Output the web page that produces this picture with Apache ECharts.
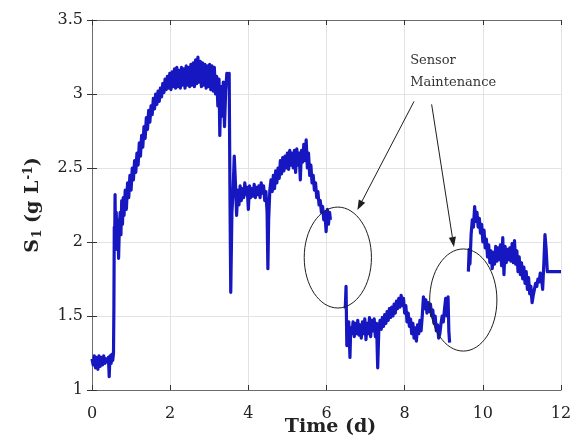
<!DOCTYPE html>
<html>
<head>
<meta charset="utf-8">
<script src="https://cdn.jsdelivr.net/npm/echarts@6/dist/echarts.min.js"></script>
<style>
html,body{margin:0;padding:0;background:#fff;}
#chart{width:571px;height:439px;}
</style>
</head>
<body>
<div id="chart"></div>
<script>
// ---- data (time in days, S1 in g/L) ----
const xTicks = [0, 2, 4, 6, 8, 10, 12];
const yTicks = [1, 1.5, 2, 2.5, 3, 3.5];

// before first sensor maintenance
const segBefore = [
  [0.00,1.21],[0.03,1.17],[0.06,1.23],[0.09,1.15],[0.12,1.22],[0.15,1.14],[0.18,1.23],[0.21,1.16],[0.24,1.22],[0.27,1.17],
  [0.30,1.23],[0.33,1.18],[0.36,1.21],[0.39,1.19],[0.42,1.22],[0.44,1.09],[0.46,1.23],[0.49,1.18],[0.51,1.24],[0.53,1.20],
  [0.55,1.25],[0.56,1.55],[0.57,2.10],[0.58,1.98],[0.59,2.32],[0.60,2.05],[0.62,2.20],[0.64,1.95],[0.66,2.15],[0.68,1.89],
  [0.70,2.10],[0.72,2.20],[0.74,2.05],[0.76,2.28],[0.78,2.12],[0.80,2.30],[0.82,2.18],[0.85,2.35],[0.88,2.22],[0.91,2.40],
  [0.94,2.30],[0.97,2.45],[1.00,2.35],
  [1.03,2.50],[1.06,2.42],[1.09,2.55],[1.12,2.47],[1.15,2.60],[1.18,2.52],[1.21,2.67],[1.24,2.58],[1.27,2.72],[1.30,2.64],
  [1.33,2.78],[1.36,2.70],[1.39,2.84],[1.42,2.76],[1.45,2.89],[1.48,2.81],[1.51,2.92],[1.54,2.86],[1.57,2.97],[1.60,2.90],
  [1.63,3.00],[1.66,2.93],[1.69,3.02],[1.72,2.95],[1.75,3.04],[1.78,2.98],[1.81,3.07],[1.84,3.01],[1.87,3.10],[1.90,3.03],
  [1.93,3.12],[1.96,3.04],[1.99,3.14],[2.02,3.03],
  [2.05,3.15],[2.08,3.05],[2.11,3.17],[2.14,3.04],[2.17,3.18],[2.20,3.05],[2.23,3.16],[2.26,3.04],[2.29,3.18],[2.32,3.06],
  [2.35,3.17],[2.38,3.04],[2.41,3.19],[2.44,3.06],[2.47,3.18],[2.50,3.05],[2.53,3.20],[2.56,3.06],[2.59,3.21],[2.62,3.05],
  [2.65,3.23],[2.68,3.07],[2.71,3.25],[2.74,3.08],[2.77,3.22],[2.80,3.05],[2.83,3.21],[2.86,3.06],[2.89,3.20],[2.92,3.04],
  [2.95,3.19],[2.98,3.05],[3.01,3.20],[3.04,3.03],[3.07,3.19],[3.10,3.02],[3.13,3.18],[3.16,3.00],[3.19,3.12],[3.22,2.92],
  [3.25,3.10],[3.27,2.72],[3.30,3.05],[3.33,2.85],[3.36,3.08],[3.39,2.78],[3.42,3.02],[3.45,3.14],[3.48,3.10],[3.51,3.14],
  [3.53,2.30],[3.55,1.66],[3.58,2.20],[3.61,2.35],
  [3.64,2.58],[3.67,2.40],[3.70,2.18],[3.73,2.35],[3.76,2.25],[3.79,2.38],[3.82,2.28],[3.85,2.36],[3.88,2.30],[3.91,2.40],
  [3.94,2.32],[3.97,2.37],[4.00,2.22],[4.03,2.38],[4.06,2.30],[4.09,2.36],[4.12,2.31],[4.15,2.39],[4.18,2.30],[4.21,2.37],
  [4.24,2.32],[4.27,2.38],[4.30,2.30],[4.33,2.40],[4.36,2.33],[4.39,2.38],[4.42,2.28],[4.45,2.34],[4.48,2.20],[4.50,1.82],
  [4.52,2.15],[4.55,2.35],[4.58,2.42],[4.61,2.34],[4.64,2.45],[4.67,2.36],[4.70,2.48],[4.73,2.40],[4.76,2.50],[4.79,2.43],
  [4.82,2.55],[4.85,2.46],[4.88,2.57],[4.91,2.48],[4.94,2.58],[4.97,2.50],[5.00,2.60],[5.03,2.49],[5.06,2.62],[5.09,2.52],
  [5.12,2.60],[5.15,2.50],[5.18,2.62],[5.21,2.47],[5.24,2.63],[5.27,2.52],[5.30,2.60],[5.33,2.42],[5.36,2.62],[5.39,2.54],
  [5.42,2.66],[5.45,2.55],[5.48,2.69],[5.51,2.50],[5.54,2.60],[5.57,2.45],[5.60,2.52],[5.63,2.40],[5.66,2.45],[5.69,2.35],
  [5.72,2.40],[5.75,2.30],[5.78,2.34],[5.81,2.25],[5.84,2.28],[5.87,2.20],[5.90,2.24],[5.93,2.15],[5.96,2.20],[5.99,2.07],
  [6.02,2.22],[6.05,2.12],[6.08,2.20],[6.10,2.15]
];

// between the two maintenance events
const segBetween = [
  [6.48,1.55],[6.50,1.70],[6.52,1.30],[6.54,1.40],[6.57,1.46],[6.60,1.22],[6.62,1.42],[6.65,1.38],[6.68,1.46],[6.71,1.36],
  [6.74,1.45],[6.77,1.38],[6.80,1.47],[6.83,1.37],[6.86,1.44],[6.89,1.35],[6.92,1.46],[6.95,1.38],[6.98,1.48],[7.01,1.34],
  [7.04,1.45],[7.07,1.38],[7.10,1.49],[7.13,1.36],[7.16,1.47],[7.19,1.40],[7.22,1.48],[7.25,1.36],[7.28,1.45],[7.31,1.15],
  [7.34,1.42],[7.37,1.47],[7.40,1.41],[7.43,1.49],[7.46,1.43],[7.49,1.51],[7.52,1.45],[7.55,1.53],[7.58,1.47],[7.61,1.55],
  [7.64,1.49],[7.67,1.56],[7.70,1.50],[7.73,1.58],[7.76,1.52],[7.79,1.60],[7.82,1.55],[7.85,1.62],[7.88,1.56],[7.91,1.64],
  [7.94,1.57],[7.97,1.62],[8.00,1.52],[8.03,1.57],[8.06,1.46],[8.09,1.52],[8.12,1.43],[8.15,1.48],[8.18,1.38],[8.21,1.45],
  [8.24,1.35],[8.27,1.42],[8.30,1.33],[8.33,1.44],[8.36,1.38],[8.39,1.47],[8.42,1.40],[8.45,1.50],[8.48,1.63],[8.51,1.55],
  [8.54,1.61],[8.57,1.52],[8.60,1.59],[8.63,1.53],[8.66,1.58],[8.69,1.50],[8.72,1.54],[8.75,1.45],[8.78,1.50],[8.81,1.40],
  [8.84,1.44],[8.87,1.35],[8.90,1.38],[8.93,1.45],[8.96,1.50],[8.99,1.46],[9.02,1.55],[9.05,1.62],[9.08,1.50],[9.11,1.63],
  [9.13,1.40],[9.15,1.32]
];

// after second maintenance
const segAfter = [
  [9.63,1.80],[9.65,1.95],[9.67,1.85],[9.70,2.05],[9.73,2.15],[9.76,2.10],[9.79,2.24],[9.82,2.14],[9.85,2.20],[9.88,2.10],
  [9.91,2.16],[9.94,2.06],[9.97,2.12],[10.00,2.00],[10.03,2.08],[10.06,1.96],[10.09,2.02],[10.12,1.90],[10.15,1.98],[10.18,1.86],
  [10.21,1.94],[10.24,1.82],[10.27,1.93],[10.30,1.85],[10.33,1.97],[10.36,1.87],[10.39,1.96],[10.42,1.88],[10.45,1.98],[10.48,1.84],
  [10.51,2.03],[10.54,1.78],[10.57,1.97],[10.60,1.86],[10.63,1.95],[10.66,1.88],[10.69,1.96],[10.72,1.87],[10.75,1.99],[10.78,1.86],
  [10.81,2.01],[10.84,1.85],[10.87,1.94],[10.90,1.80],[10.93,1.90],[10.96,1.78],[10.99,1.86],[11.02,1.75],[11.05,1.83],[11.08,1.72],
  [11.11,1.80],[11.14,1.68],[11.17,1.76],[11.20,1.65],[11.23,1.70],[11.26,1.59],[11.29,1.64],[11.32,1.68],[11.35,1.72],[11.38,1.70],
  [11.41,1.75],[11.44,1.73],[11.47,1.79],[11.50,1.76],[11.53,1.68],[11.56,1.85],[11.59,2.05],[11.62,1.95],[11.65,1.80],[11.80,1.80],
  [12.00,1.80]
];

// annotation geometry in data units (time, S1)
const ellipses = [
  {t: 6.29, s: 1.895, rt: 0.86, rs: 0.341},
  {t: 9.50, s: 1.608, rt: 0.86, rs: 0.345}
];
const arrows = [
  {t0: 8.24, s0: 2.95, t1: 6.79, s1: 2.216},
  {t0: 8.69, s0: 2.93, t1: 9.26, s1: 1.966}
];
const noteText = {t: 8.14, s: 3.30, text: 'Sensor\nMaintenance'};

// ---- build chart ----
const serif = '"DejaVu Serif", serif';
const seriesData = [].concat(segBefore, [[6.3, '-']], segBetween, [[9.4, '-']], segAfter);

const chart = echarts.init(document.getElementById('chart'), null, {renderer: 'canvas'});
const axisColor = '#6b6b6b';
const common = {
  type: 'value',
  axisLine: {show: true, lineStyle: {color: axisColor, width: 1}},
  axisTick: {show: true, inside: true, length: 5, lineStyle: {color: '#333'}}
};
chart.setOption({
  animation: false,
  backgroundColor: '#fff',
  grid: {left: 92, right: 10, top: 20, bottom: 49, containLabel: false, outerBoundsMode: 'none'},
  xAxis: [
    Object.assign({}, common, {
      min: xTicks[0], max: xTicks[xTicks.length - 1], interval: xTicks[1] - xTicks[0],
      position: 'bottom',
      axisLabel: {fontFamily: serif, fontSize: 16, color: '#222', margin: 16},
      splitLine: {show: true, lineStyle: {color: '#e3e3e3', width: 1}},
      name: 'Time (d)', nameLocation: 'middle', nameGap: 28, nameMoveOverlap: false,
      nameTextStyle: {fontFamily: serif, fontSize: 19, fontWeight: 'bold', color: '#222', padding: [0, 0, 0, 8]}
    }),
    Object.assign({}, common, {
      min: xTicks[0], max: xTicks[xTicks.length - 1], interval: xTicks[1] - xTicks[0],
      position: 'top', axisLabel: {show: false}, splitLine: {show: false}
    })
  ],
  yAxis: [
    Object.assign({}, common, {
      min: yTicks[0], max: yTicks[yTicks.length - 1], interval: yTicks[1] - yTicks[0],
      position: 'left',
      axisLabel: {fontFamily: serif, fontSize: 16, color: '#222', margin: 9},
      splitLine: {show: true, lineStyle: {color: '#e3e3e3', width: 1}},
      name: '{b|S}{sub|1}{b| (g L}{sup|-1}{b|)}',
      nameLocation: 'middle', nameGap: 48, nameMoveOverlap: false,
      nameTextStyle: {
        fontFamily: serif, fontSize: 19, fontWeight: 'bold', color: '#222',
        rich: {
          b: {fontFamily: serif, fontSize: 19, fontWeight: 'bold', color: '#222'},
          sub: {fontFamily: serif, fontSize: 12, fontWeight: 'bold', color: '#222', padding: [10, 0, 0, 1]},
          sup: {fontFamily: serif, fontSize: 12, fontWeight: 'bold', color: '#222', padding: [0, 0, 9, 1]}
        }
      }
    }),
    Object.assign({}, common, {
      min: yTicks[0], max: yTicks[yTicks.length - 1], interval: yTicks[1] - yTicks[0],
      position: 'right', axisLabel: {show: false}, splitLine: {show: false}
    })
  ],
  series: [{
    type: 'line',
    xAxisIndex: 0, yAxisIndex: 0,
    data: seriesData,
    showSymbol: false,
    connectNulls: false,
    lineStyle: {color: '#1717c2', width: 3.2, join: 'round'},
    itemStyle: {color: '#1717c2'},
    z: 3
  }]
});

// ---- annotations converted from data units ----
const toPx = (t, s) => chart.convertToPixel({xAxisIndex: 0, yAxisIndex: 0}, [t, s]);
const elements = [];
ellipses.forEach(e => {
  const c = toPx(e.t, e.s);
  const r = toPx(e.t + e.rt, e.s + e.rs);
  elements.push({
    type: 'ellipse', z: 100,
    shape: {cx: c[0], cy: c[1], rx: r[0] - c[0], ry: c[1] - r[1]},
    style: {fill: 'none', stroke: '#1e1e1e', lineWidth: 1}
  });
});
arrows.forEach(a => {
  const p0 = toPx(a.t0, a.s0), p1 = toPx(a.t1, a.s1);
  const ang = Math.atan2(p1[1] - p0[1], p1[0] - p0[0]);
  const L = 10, W = 3.6;
  const bx = p1[0] - L * Math.cos(ang), by = p1[1] - L * Math.sin(ang);
  elements.push({type: 'line', z: 100, shape: {x1: p0[0], y1: p0[1], x2: bx, y2: by},
    style: {stroke: '#1e1e1e', lineWidth: 1}});
  elements.push({type: 'polygon', z: 100, shape: {points: [
      [p1[0], p1[1]],
      [bx - W * Math.sin(ang), by + W * Math.cos(ang)],
      [bx + W * Math.sin(ang), by - W * Math.cos(ang)]
    ]}, style: {fill: '#1e1e1e'}});
});
const tp = toPx(noteText.t, noteText.s);
elements.push({type: 'text', z: 100, x: tp[0], y: tp[1],
  style: {text: noteText.text, fontFamily: serif, fontSize: 13, fill: '#333', lineHeight: 22}});
chart.setOption({graphic: elements});
</script>
</body>
</html>
